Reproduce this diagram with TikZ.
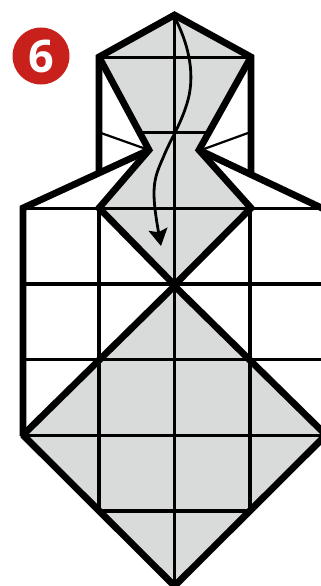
\documentclass[tikz,border=0pt]{standalone}
\usepackage{fontspec}
\setmainfont{Open Sans}
\usetikzlibrary{arrows.meta}
\definecolor{foldgrey}{HTML}{D9DBDA}
\definecolor{badge}{HTML}{C8201A}
\tikzset{
  thick line/.style={line width=6.8pt,line join=miter,miter limit=6},
  thin line/.style={line width=3.1pt},
  fine line/.style={line width=2.2pt},
}
\begin{document}
\begin{tikzpicture}[x=1pt,y=-1pt]
\useasboundingbox (0,0) rectangle (321,586);
\clip (0,0) rectangle (321,586);
\fill[white] (0,0) rectangle (321,586);
% grey faces
\fill[foldgrey] (174.5,15) -- (99,57) -- (149,150) -- (99,208) -- (174.5,285) -- (251,208) -- (199,150) -- (251,57) -- cycle;
\fill[foldgrey] (174.5,285) -- (23,435) -- (174.5,586) -- (326,435) -- cycle;
% grid
\draw[thin line] (174.5,15) -- (174.5,586);
\draw[thin line] (99,57.5) -- (251,57.5);
\draw[thin line] (142,132.5) -- (207,132.5);
\draw[thin line] (23,208.5) -- (321,208.5);
\draw[thin line] (23,284) -- (321,284);
\draw[thin line] (23,359.5) -- (321,359.5);
\draw[thin line] (23,435.5) -- (321,435.5);
\draw[thin line] (99,511) -- (250,511);
\draw[thin line] (99,208) -- (99,511);
\draw[thin line] (250,208) -- (250,511);
\draw[fine line] (101,133) -- (146,149);
\draw[fine line] (248,133) -- (204,149);
% thick outline
\draw[thick line] (99,172) -- (99,57) -- (174.5,15) -- (251,57) -- (251,173);
\draw[thick line] (99,57) -- (149,150) -- (99,208) -- (174.5,285) -- (251,208) -- (199,150) -- (251,57);
\draw[thick line] (149,150) -- (23,208) -- (23,436);
\draw[thick line] (199,150) -- (326,210);
\draw[thick line,line join=bevel] (174.5,286) -- (23,435) -- (174.5,586) -- (326,435) -- cycle;
% arrow
\draw[line width=2.8pt,-{Stealth[length=17pt,width=19pt,inset=3pt]}]
  (176,20) .. controls (186,40) and (196,70) .. (188,100)
  .. controls (181,125) and (170,140) .. (163,158)
  .. controls (153,180) and (151,190) .. (161,246);
% badge
\node[circle,fill=badge,minimum size=57pt,inner sep=0pt,text=white,font=\fontsize{45pt}{45pt}\bfseries] (badge) at (41,56) {6};
\end{tikzpicture}
\end{document}
